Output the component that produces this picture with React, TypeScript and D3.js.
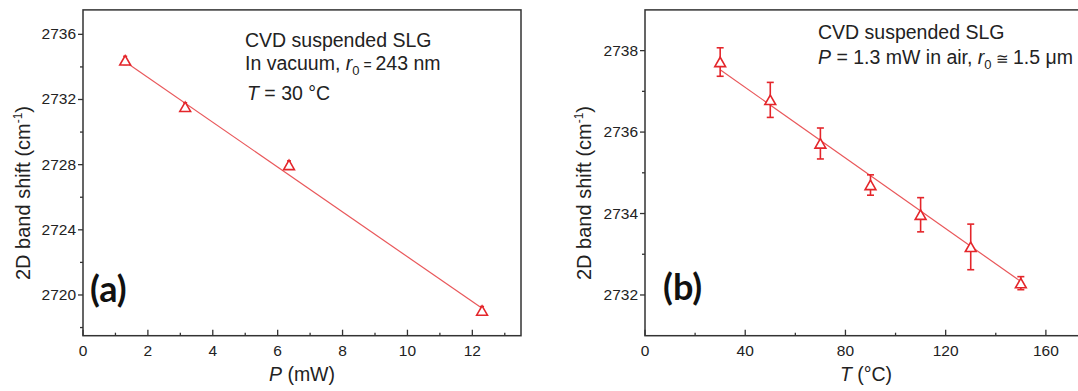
import React from 'react';
import * as d3 from 'd3';

// panel (a): Raman 2D shift vs laser power
const powerA = [1.3, 3.15, 6.35, 12.3];
const shiftA = [2734.4, 2731.55, 2727.98, 2719.04];
const errA = [0.25, 0.25, 0.25, 0.25];
const fitXA = [1.3, 12.3];
const fitYA = [2734.32, 2719.18];
const xTicksA = [0, 2, 4, 6, 8, 10, 12];
const xMinorA = [1, 3, 5, 7, 9, 11, 13];
const yTicksA = [2720, 2724, 2728, 2732, 2736];
const yMinorA = [2718, 2722, 2726, 2730, 2734];

// panel (b): Raman 2D shift vs temperature
const tempB = [30, 50, 70, 90, 110, 130, 150];
const shiftB = [2737.72, 2736.79, 2735.72, 2734.7, 2733.97, 2733.18, 2732.29];
const errB = [0.35, 0.43, 0.38, 0.25, 0.42, 0.56, 0.16];
const fitXB = [30, 150];
const fitYB = [2737.53, 2732.33];
const xTicksB = [0, 40, 80, 120, 160];
const xMinorB = [20, 60, 100, 140];
const yTicksB = [2732, 2734, 2736, 2738];
const yMinorB = [2733, 2735, 2737];

const W = 1078;
const H = 391;
const RED = '#e4262b';
const FIT_RED = '#e9575a';
const AXIS = '#333';
const FONT = '"Liberation Sans", Arial, sans-serif';

const TRI = 'M0,-4.8L5.4,4.6L-5.4,4.6Z';

type PanelProps = {
  xs: number[]; ys: number[]; errs: number[];
  fitX: number[]; fitY: number[];
  xDomain: [number, number]; yDomain: [number, number];
  xRange: [number, number]; yRange: [number, number];
  xTicks: number[]; xMinor: number[]; yTicks: number[]; yMinor: number[];
  capW: number;
  yLabelX: number;
  xLabel: React.ReactNode;
  xLabelX: number;
};

function Panel(p: PanelProps) {
  const x = d3.scaleLinear().domain(p.xDomain).range(p.xRange);
  const y = d3.scaleLinear().domain(p.yDomain).range(p.yRange);
  const [x0, x1] = p.xRange;
  const [yb, yt] = p.yRange;
  const fit = d3.line<number>().x((d) => x(d)).y((_, i) => y(p.fitY[i]));

  return (
    <g>
      <path d={fit(p.fitX) ?? ''} fill="none" stroke={FIT_RED} strokeWidth={1.2} />
      {p.xs.map((v, i) => (
        <g key={i} stroke={RED} strokeWidth={1.6} fill="none">
          <line x1={x(v)} x2={x(v)} y1={y(p.ys[i] - p.errs[i])} y2={y(p.ys[i] + p.errs[i])} />
          <line x1={x(v) - p.capW / 2} x2={x(v) + p.capW / 2} y1={y(p.ys[i] - p.errs[i])} y2={y(p.ys[i] - p.errs[i])} />
          <line x1={x(v) - p.capW / 2} x2={x(v) + p.capW / 2} y1={y(p.ys[i] + p.errs[i])} y2={y(p.ys[i] + p.errs[i])} />
          <path d={TRI} transform={`translate(${x(v)},${y(p.ys[i])})`} fill="#fff" />
        </g>
      ))}

      <rect x={x0} y={yt} width={x1 - x0} height={yb - yt} fill="none" stroke={AXIS} strokeWidth={1.5} />

      {p.xTicks.map((t) => (
        <g key={'xt' + t}>
          <line x1={x(t)} x2={x(t)} y1={yb} y2={yb - 6} stroke={AXIS} strokeWidth={1.3} />
          <text x={x(t)} y={yb + 20} textAnchor="middle" fontSize={15.5} fill="#222">{t}</text>
        </g>
      ))}
      {p.xMinor.map((t) => (
        <line key={'xm' + t} x1={x(t)} x2={x(t)} y1={yb} y2={yb - 3} stroke={AXIS} strokeWidth={1.3} />
      ))}
      {p.yTicks.map((t) => (
        <g key={'yt' + t}>
          <line x1={x0} x2={x0 - 5} y1={y(t)} y2={y(t)} stroke={AXIS} strokeWidth={1.3} />
          <text x={x0 - 7} y={y(t) + 5} textAnchor="end" fontSize={15.5} fill="#222">{t}</text>
        </g>
      ))}
      {p.yMinor.map((t) => (
        <line key={'ym' + t} x1={x0} x2={x0 - 3} y1={y(t)} y2={y(t)} stroke={AXIS} strokeWidth={1.3} />
      ))}

      <text transform={`translate(${p.yLabelX},193) rotate(-90)`} textAnchor="middle" fontSize={20} fill="#222">
        2D band shift (cm<tspan fontSize={12} dy={-8}>-1</tspan><tspan dy={8}>)</tspan>
      </text>
      <text x={p.xLabelX} y={381} textAnchor="middle" fontSize={19.5} fill="#222">{p.xLabel}</text>
    </g>
  );
}

export default function App() {
  return (
    <svg width={W} height={H} style={{ position: 'absolute', left: 0, top: 0, background: '#fff' }} fontFamily={FONT}>
      <Panel
        xs={powerA} ys={shiftA} errs={errA} fitX={fitXA} fitY={fitYA}
        xDomain={[0, 13.5]} yDomain={[2717.5, 2737.5]}
        xRange={[83, 521]} yRange={[335.7, 9.9]}
        xTicks={xTicksA} xMinor={xMinorA} yTicks={yTicksA} yMinor={yMinorA}
        capW={4} yLabelX={30} xLabelX={302}
        xLabel={<><tspan fontStyle="italic">P</tspan> (mW)</>}
      />
      <Panel
        xs={tempB} ys={shiftB} errs={errB} fitX={fitXB} fitY={fitYB}
        xDomain={[0, 180]} yDomain={[2731, 2739]}
        xRange={[645, 1096]} yRange={[335.7, 9.9]}
        xTicks={xTicksB} xMinor={xMinorB} yTicks={yTicksB} yMinor={yMinorB}
        capW={7} yLabelX={591} xLabelX={866}
        xLabel={<><tspan fontStyle="italic">T</tspan> (°C)</>}
      />

      <g fontSize={19.5} fill="#222">
        <text x={245} y={46.5}>CVD suspended SLG</text>
        <text x={245} y={70}>
          In vacuum, <tspan fontStyle="italic">r</tspan><tspan fontSize={13} dy={5}>0</tspan>
          <tspan dy={-5} fontSize={14}> = </tspan>243 nm
        </text>
        <text x={247} y={100}>
          <tspan fontStyle="italic">T</tspan> = 30 °C
        </text>
        <text x={818} y={38.5}>CVD suspended SLG</text>
        <text x={818} y={64}>
          <tspan fontStyle="italic">P</tspan> = 1.3 mW in air, <tspan fontStyle="italic">r</tspan>
          <tspan fontSize={13} dy={5}>0</tspan><tspan dy={-5} fontSize={15}> ≅ </tspan>1.5 μm
        </text>
      </g>

      <g fontFamily="Lato, 'Open Sans', sans-serif" fontWeight="bold" fontSize={36} fill="#111">
        <text x={90} y={302}>(a)</text>
        <text x={663} y={300}>(b)</text>
      </g>
    </svg>
  );
}
